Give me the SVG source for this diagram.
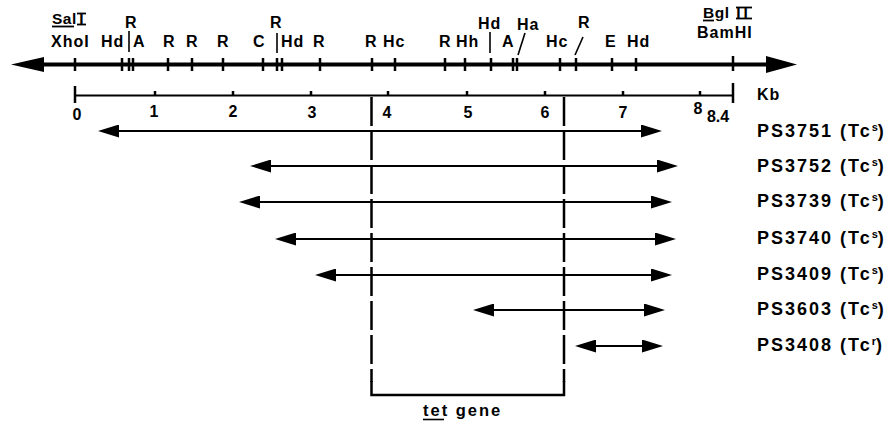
<svg xmlns="http://www.w3.org/2000/svg" width="893" height="425" viewBox="0 0 893 425">
<style>
text{font-family:"Liberation Sans",Arial,sans-serif;font-weight:bold;fill:#000}
.m{font-size:16px;letter-spacing:1px}
.n{font-size:16px;text-anchor:middle}
.ps{font-size:18px;letter-spacing:2px}
.sup{font-size:11px;letter-spacing:0}
.tk{stroke:#000;stroke-width:2.5}
.ln{stroke:#000;stroke-width:1.6;fill:none}
.ul{stroke:#000;stroke-width:1.8}
.ar{stroke:#000;stroke-width:2.2;marker-start:url(#ah);marker-end:url(#ah)}
.dash{stroke:#000;stroke-width:2.5;stroke-dasharray:29 5;fill:none}
</style>
<defs>
<marker id="ah" markerUnits="userSpaceOnUse" markerWidth="21" markerHeight="13" refX="10" refY="6.5" orient="auto-start-reverse">
<path d="M0,0 L21,6.5 L0,13 z" fill="#000"/>
</marker>
</defs>
<rect width="893" height="425" fill="#fff"/>

<g id="map">
<line x1="40" y1="64.5" x2="770" y2="64.5" stroke="#000" stroke-width="4"/>
<polygon points="11,64.5 44,57 44,72" fill="#000"/>
<polygon points="797,64.5 766,56 766,73" fill="#000"/>
<g class="tk">
<line x1="75" y1="58" x2="75" y2="71"/>
<line x1="122" y1="58" x2="122" y2="71"/>
<line x1="129" y1="58" x2="129" y2="71"/>
<line x1="133" y1="58" x2="133" y2="71"/>
<line x1="168" y1="58" x2="168" y2="71"/>
<line x1="192" y1="58" x2="192" y2="71"/>
<line x1="223" y1="58" x2="223" y2="71"/>
<line x1="263" y1="58" x2="263" y2="71"/>
<line x1="277" y1="58" x2="277" y2="71"/>
<line x1="282" y1="58" x2="282" y2="71"/>
<line x1="320" y1="58" x2="320" y2="71"/>
<line x1="372" y1="58" x2="372" y2="71"/>
<line x1="395" y1="58" x2="395" y2="71"/>
<line x1="445" y1="58" x2="445" y2="71"/>
<line x1="465" y1="58" x2="465" y2="71"/>
<line x1="491" y1="58" x2="491" y2="71"/>
<line x1="513" y1="58" x2="513" y2="71"/>
<line x1="517" y1="58" x2="517" y2="71"/>
<line x1="560" y1="58" x2="560" y2="71"/>
<line x1="576" y1="58" x2="576" y2="71"/>
<line x1="612" y1="58" x2="612" y2="71"/>
<line x1="636" y1="58" x2="636" y2="71"/>
<line x1="733" y1="56" x2="733" y2="71"/>
</g>
<g class="ln">
<line x1="129" y1="31" x2="129" y2="52"/>
<line x1="277" y1="33" x2="277" y2="53"/>
<line x1="490" y1="32" x2="490" y2="53"/>
<line x1="525" y1="33" x2="518" y2="55"/>
<line x1="583" y1="37" x2="575" y2="55"/>
</g>
<text x="52" y="24" font-size="15.5" letter-spacing="0.5">Sal</text>
<line class="ul" x1="52" y1="26.5" x2="74" y2="26.5"/>
<text x="81.5" y="24" font-size="15.5" text-anchor="middle">I</text>
<line class="ul" x1="77" y1="13.5" x2="86" y2="13.5"/>
<line class="ul" x1="77" y1="24.5" x2="86" y2="24.5"/>
<text class="m" x="125" y="28">R</text>
<text class="m" x="270" y="28">R</text>
<text class="m" x="478" y="29">Hd</text>
<text class="m" x="517" y="30">Ha</text>
<text class="m" x="578" y="28">R</text>
<text x="703" y="18" font-size="15.5" letter-spacing="0.5">Bgl</text>
<line class="ul" x1="703" y1="20.5" x2="714" y2="20.5"/>
<text x="743.5" y="18" font-size="15.5" letter-spacing="3" text-anchor="middle">II</text>
<line class="ul" x1="736" y1="7.5" x2="752" y2="7.5"/>
<line class="ul" x1="736" y1="18.5" x2="752" y2="18.5"/>

<text class="m" x="51" y="47">XhoI</text>
<text class="m" x="101" y="47">Hd</text>
<text class="m" x="133" y="47">A</text>
<text class="m" x="163" y="47">R</text>
<text class="m" x="186" y="47">R</text>
<text class="m" x="217" y="47">R</text>
<text class="m" x="253" y="47">C</text>
<text class="m" x="281" y="47">Hd</text>
<text class="m" x="313" y="47">R</text>
<text class="m" x="365" y="47">R</text>
<text class="m" x="383" y="47">Hc</text>
<text class="m" x="439" y="47">R</text>
<text class="m" x="456" y="47">Hh</text>
<text class="m" x="502" y="47">A</text>
<text class="m" x="546" y="47">Hc</text>
<text class="m" x="605" y="47">E</text>
<text class="m" x="627" y="47">Hd</text>
<text class="m" x="697" y="38">BamHI</text>
</g>

<g id="scale">
<line x1="75" y1="95.5" x2="733" y2="95.5" stroke="#000" stroke-width="2"/>
<g class="tk">
<line x1="75" y1="86" x2="75" y2="103"/>
<line x1="733" y1="83" x2="733" y2="103"/>
<line x1="155" y1="91" x2="155" y2="96"/>
<line x1="233" y1="91" x2="233" y2="96"/>
<line x1="311" y1="91" x2="311" y2="96"/>
<line x1="388" y1="91" x2="388" y2="96"/>
<line x1="467" y1="91" x2="467" y2="96"/>
<line x1="545" y1="91" x2="545" y2="96"/>
<line x1="623" y1="91" x2="623" y2="96"/>
<line x1="700" y1="91" x2="700" y2="96"/>
</g>
<text class="n" x="77" y="120">0</text>
<text class="n" x="154" y="117">1</text>
<text class="n" x="233" y="117">2</text>
<text class="n" x="312" y="118">3</text>
<text class="n" x="387" y="118">4</text>
<text class="n" x="468" y="118">5</text>
<text class="n" x="545" y="118">6</text>
<text class="n" x="623" y="118">7</text>
<text class="n" x="698" y="114">8</text>
<text class="n" x="718" y="122">8.4</text>
<text class="m" x="757" y="100">Kb</text>
</g>

<g id="tet-gene">
<line class="dash" x1="371.5" y1="97" x2="371.5" y2="382"/>
<line class="dash" x1="564" y1="97" x2="564" y2="382"/>
<path d="M371.5,381 V395 H564 V381" stroke="#000" stroke-width="2.5" fill="none"/>
<text x="423" y="416" font-size="16.5" letter-spacing="2">tet gene</text>
<line x1="423" y1="419.5" x2="444" y2="419.5" stroke="#000" stroke-width="1.6"/>
</g>

<g id="connectors">
<line class="ar" x1="109" y1="131" x2="651" y2="131"/>
<line class="ar" x1="261" y1="166" x2="667" y2="166"/>
<line class="ar" x1="250" y1="202" x2="661" y2="202"/>
<line class="ar" x1="286" y1="239" x2="665" y2="239"/>
<line class="ar" x1="326" y1="275" x2="661" y2="275"/>
<line class="ar" x1="484" y1="310" x2="654" y2="310"/>
<line class="ar" x1="586" y1="346" x2="652" y2="346"/>
</g>

<g id="PS3751"><text class="ps" x="757" y="137">PS3751 (Tc<tspan class="sup" dy="-6">s</tspan><tspan dy="6">)</tspan></text></g>
<g id="PS3752"><text class="ps" x="757" y="172">PS3752 (Tc<tspan class="sup" dy="-6">s</tspan><tspan dy="6">)</tspan></text></g>
<g id="PS3739"><text class="ps" x="757" y="207">PS3739 (Tc<tspan class="sup" dy="-6">s</tspan><tspan dy="6">)</tspan></text></g>
<g id="PS3740"><text class="ps" x="757" y="244">PS3740 (Tc<tspan class="sup" dy="-6">s</tspan><tspan dy="6">)</tspan></text></g>
<g id="PS3409"><text class="ps" x="757" y="280">PS3409 (Tc<tspan class="sup" dy="-6">s</tspan><tspan dy="6">)</tspan></text></g>
<g id="PS3603"><text class="ps" x="757" y="315">PS3603 (Tc<tspan class="sup" dy="-6">s</tspan><tspan dy="6">)</tspan></text></g>
<g id="PS3408"><text class="ps" x="757" y="351">PS3408 (Tc<tspan class="sup" dy="-6">r</tspan><tspan dy="6">)</tspan></text></g>
</svg>
